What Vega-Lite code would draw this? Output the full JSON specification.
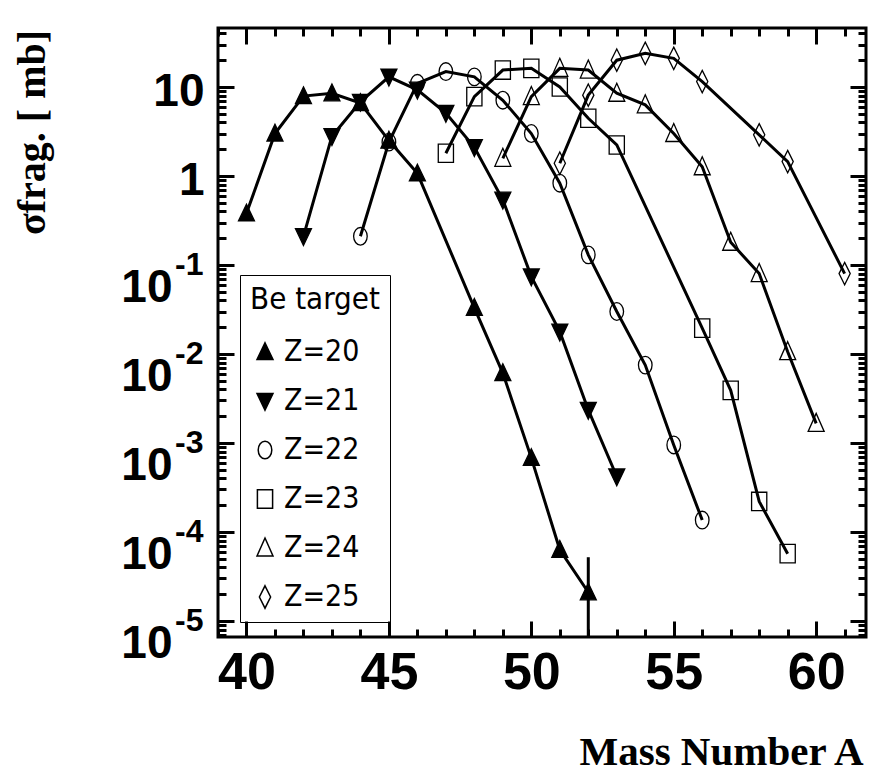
{
  "$schema": "https://vega.github.io/schema/vega-lite/v6.json",
  "autosize": {"type": "none"},
  "padding": {"left": 218, "top": 28, "right": 12, "bottom": 146},
  "width": 648,
  "height": 609,
  "background": "white",
  "config": {
    "view": {"stroke": "black", "strokeWidth": 3},
    "axis": {"domain": false, "grid": false, "labelColor": "black", "titleColor": "black"}
  },
  "datasets": {
    "pts": [
      {"Z": "Z=20", "A": 40, "sigma": 0.38},
      {"Z": "Z=20", "A": 41, "sigma": 3.0},
      {"Z": "Z=20", "A": 42, "sigma": 7.9},
      {"Z": "Z=20", "A": 43, "sigma": 8.5},
      {"Z": "Z=20", "A": 44, "sigma": 6.6},
      {"Z": "Z=20", "A": 45, "sigma": 2.5},
      {"Z": "Z=20", "A": 46, "sigma": 1.07},
      {"Z": "Z=20", "A": 48, "sigma": 0.033},
      {"Z": "Z=20", "A": 49, "sigma": 0.0061},
      {"Z": "Z=20", "A": 50, "sigma": 0.00068},
      {"Z": "Z=20", "A": 51, "sigma": 0.000063},
      {"Z": "Z=20", "A": 52, "sigma": 0.000021},
      {"Z": "Z=21", "A": 42, "sigma": 0.21},
      {"Z": "Z=21", "A": 43, "sigma": 2.8},
      {"Z": "Z=21", "A": 44, "sigma": 6.8},
      {"Z": "Z=21", "A": 45, "sigma": 13},
      {"Z": "Z=21", "A": 46, "sigma": 9.3},
      {"Z": "Z=21", "A": 47, "sigma": 5.1},
      {"Z": "Z=21", "A": 48, "sigma": 2.1},
      {"Z": "Z=21", "A": 49, "sigma": 0.54},
      {"Z": "Z=21", "A": 50, "sigma": 0.074},
      {"Z": "Z=21", "A": 51, "sigma": 0.0178},
      {"Z": "Z=21", "A": 52, "sigma": 0.00235},
      {"Z": "Z=21", "A": 53, "sigma": 0.00042},
      {"Z": "Z=22", "A": 44, "sigma": 0.21},
      {"Z": "Z=22", "A": 45, "sigma": 2.4},
      {"Z": "Z=22", "A": 46, "sigma": 11},
      {"Z": "Z=22", "A": 47, "sigma": 14.9},
      {"Z": "Z=22", "A": 48, "sigma": 13},
      {"Z": "Z=22", "A": 49, "sigma": 7.1},
      {"Z": "Z=22", "A": 50, "sigma": 3.0},
      {"Z": "Z=22", "A": 51, "sigma": 0.83},
      {"Z": "Z=22", "A": 52, "sigma": 0.13},
      {"Z": "Z=22", "A": 53, "sigma": 0.030},
      {"Z": "Z=22", "A": 54, "sigma": 0.0075},
      {"Z": "Z=22", "A": 55, "sigma": 0.00095},
      {"Z": "Z=22", "A": 56, "sigma": 0.000136},
      {"Z": "Z=23", "A": 47, "sigma": 1.8},
      {"Z": "Z=23", "A": 48, "sigma": 7.8},
      {"Z": "Z=23", "A": 49, "sigma": 15.5},
      {"Z": "Z=23", "A": 50, "sigma": 16.2},
      {"Z": "Z=23", "A": 51, "sigma": 10},
      {"Z": "Z=23", "A": 52, "sigma": 4.45},
      {"Z": "Z=23", "A": 53, "sigma": 2.23},
      {"Z": "Z=23", "A": 56, "sigma": 0.0195},
      {"Z": "Z=23", "A": 57, "sigma": 0.0039},
      {"Z": "Z=23", "A": 58, "sigma": 0.00022},
      {"Z": "Z=23", "A": 59, "sigma": 0.000057},
      {"Z": "Z=24", "A": 49, "sigma": 1.58},
      {"Z": "Z=24", "A": 50, "sigma": 7.8},
      {"Z": "Z=24", "A": 51, "sigma": 16.2},
      {"Z": "Z=24", "A": 52, "sigma": 15.5},
      {"Z": "Z=24", "A": 53, "sigma": 8.5},
      {"Z": "Z=24", "A": 54, "sigma": 6.3},
      {"Z": "Z=24", "A": 55, "sigma": 3.0},
      {"Z": "Z=24", "A": 56, "sigma": 1.27},
      {"Z": "Z=24", "A": 57, "sigma": 0.18},
      {"Z": "Z=24", "A": 58, "sigma": 0.08},
      {"Z": "Z=24", "A": 59, "sigma": 0.0106},
      {"Z": "Z=24", "A": 60, "sigma": 0.00166},
      {"Z": "Z=25", "A": 51, "sigma": 1.39},
      {"Z": "Z=25", "A": 52, "sigma": 8.1},
      {"Z": "Z=25", "A": 53, "sigma": 20},
      {"Z": "Z=25", "A": 54, "sigma": 23.9},
      {"Z": "Z=25", "A": 55, "sigma": 21},
      {"Z": "Z=25", "A": 56, "sigma": 11.5},
      {"Z": "Z=25", "A": 58, "sigma": 2.9},
      {"Z": "Z=25", "A": 59, "sigma": 1.45},
      {"Z": "Z=25", "A": 61, "sigma": 0.08}
    ],
    "errs": [
      {"Z": "Z=20", "A": 52, "hi": 0.000052, "lo": 0.000001}
    ]
  },
  "layer": [
    {
      "data": {"name": "pts"},
      "mark": {"type": "line", "stroke": "black", "strokeWidth": 3, "clip": true},
      "encoding": {
        "x": {
          "field": "A", "type": "quantitative",
          "scale": {"domain": [39, 61.75], "nice": false, "zero": false},
          "axis": {
            "orient": "bottom",
            "values": [40, 45, 50, 55, 60],
            "ticks": true,
            "tickSize": 16,
            "tickColor": "black",
            "tickWidth": 3,
            "offset": -16,
            "zindex": 3,
            "labelFont": "Liberation Sans, Arial, sans-serif",
            "labelFontWeight": "bold",
            "labelFontSize": 52,
            "labelPadding": 10,
            "labelFlush": false,
            "labelOverlap": false,
            "title": "Mass Number A",
            "titleFont": "Liberation Serif, DejaVu Serif, serif",
            "titleFontWeight": "bold",
            "titleFontSize": 41,
            "titleAnchor": "end",
            "titleAlign": "right",
            "titleBaseline": "alphabetic",
            "titleX": 645,
            "titleY": 143
          }
        },
        "y": {
          "field": "sigma", "type": "quantitative",
          "scale": {"type": "log", "domain": [0.0000066, 46], "nice": false},
          "axis": {
            "orient": "left",
            "values": [0.00001, 0.0001, 0.001, 0.01, 0.1, 1, 10],
            "ticks": true,
            "tickSize": 16,
            "offset": -16,
            "tickColor": "black",
            "tickWidth": 3,
            "zindex": 3,
            "labelExpr": "datum.value > 0.5 && datum.value < 5 ? '1' : '10'",
            "labelFont": "Liberation Sans, Arial, sans-serif",
            "labelFontWeight": "bold",
            "labelFontSize": 46,
            "labelPadding": {"condition": {"test": "datum.value < 0.5", "value": 46}, "value": 14},
            "labelOffset": {"condition": {"test": "datum.value < 0.5", "value": 23}, "value": 5},
            "labelFlush": false,
            "labelOverlap": false,
            "title": "σfrag. [ mb]",
            "titleFont": "Liberation Serif, DejaVu Serif, serif",
            "titleFontWeight": "bold",
            "titleFontSize": 40,
            "titleAngle": -90,
            "titleAlign": "center",
            "titleBaseline": "middle",
            "titleX": -202,
            "titleY": 104
          }
        },
        "detail": {"field": "Z", "type": "nominal"}
      }
    },
    {
      "data": {"name": "pts"},
      "transform": [{"filter": "datum.Z == 'Z=20' || datum.Z == 'Z=21'"}],
      "mark": {"type": "point", "stroke": "black", "strokeWidth": 1.3, "opacity": 1, "size": 256, "clip": true},
      "encoding": {
        "x": {
          "field": "A", "type": "quantitative",
          "axis": {
            "orient": "bottom",
            "values": [39,41,42,43,44,46,47,48,49,51,52,53,54,56,57,58,59,61],
            "ticks": true,
            "tickSize": 8, "offset": -8, "tickColor": "black", "tickWidth": 3,
            "zindex": 3,
            "labels": false, "title": null
          }
        },
        "y": {
          "field": "sigma", "type": "quantitative",
          "axis": {
            "orient": "left",
            "values": [0.000007,0.000008,0.000009,0.00001,0.00002,0.00003,0.00004,0.00005,0.00006,0.00007,0.00008,0.00009,0.0001,0.0002,0.0003,0.0004,0.0005,0.0006,0.0007,0.0008,0.0009,0.001,0.002,0.003,0.004,0.005,0.006,0.007,0.008,0.009,0.01,0.02,0.03,0.04,0.05,0.06,0.07,0.08,0.09,0.1,0.2,0.3,0.4,0.5,0.6,0.7,0.8,0.9,2,3,4,5,6,7,8,9,20,30,40],
            "ticks": true,
            "tickSize": 8, "offset": -8, "tickColor": "black", "tickWidth": 3,
            "zindex": 3,
            "labelExpr": "(datum.value < 0.5 && abs(log(datum.value)/LN10 - round(log(datum.value)/LN10)) < 0.01) ? '-' + (-round(log(datum.value)/LN10)) : ''",
            "labelFont": "Liberation Sans, Arial, sans-serif",
            "labelFontWeight": "bold",
            "labelFontSize": 32,
            "labelPadding": 15,
            "labelOffset": 0,
            "labelFlush": false,
            "labelOverlap": false,
            "labelBound": false,
            "title": null
          }
        },
        "shape": {
          "field": "Z", "type": "nominal",
          "scale": {
            "domain": ["Z=20","Z=21","Z=22","Z=23","Z=24","Z=25"],
            "range": [
              "M0,-1.15L1,0.95L-1,0.95Z",
              "M0,1.15L1,-0.95L-1,-0.95Z",
              "M-0.85,0A0.85,1.1 0 1,0 0.85,0A0.85,1.1 0 1,0 -0.85,0Z",
              "M-0.95,-1.15H0.95V1.15H-0.95Z",
              "M0,-1.25L1,1L-1,1Z",
              "M0,-1.4L0.7,0L0,1.4L-0.7,0Z"
            ]
          },
          "legend": {
            "orient": "none",
            "legendX": 22,
            "legendY": 247,
            "title": "Be target",
            "titleFont": "DejaVu Sans Condensed, DejaVu Sans, sans-serif",
            "titleFontWeight": "normal",
            "titleFontSize": 31,
            "titleColor": "black",
            "titlePadding": 21,
            "labelFont": "DejaVu Sans Condensed, DejaVu Sans, sans-serif",
            "labelFontSize": 30,
            "labelColor": "black",
            "labelOffset": 4,
            "rowPadding": 19,
            "symbolSize": 256,
            "symbolOffset": 0,
            "padding": 10,
            "strokeColor": "black",
            "fillColor": "white",
            "cornerRadius": 0,
            "encode": {
              "legend": {"update": {"strokeWidth": {"value": 3}}},
              "symbols": {
                "update": {
                  "shape": {"signal": "{'Z=20':'M-1.8,-0.12H1.8V0.12H-1.8Z M0,-1.15L1,0.95L-1,0.95Z','Z=21':'M-1.8,-0.12H1.8V0.12H-1.8Z M0,1.15L1,-0.95L-1,-0.95Z','Z=22':'M-1.8,-0.12H1.8V0.12H-1.8Z M-0.85,0A0.85,1.1 0 1,0 0.85,0A0.85,1.1 0 1,0 -0.85,0Z','Z=23':'M-1.8,-0.12H1.8V0.12H-1.8Z M-0.95,-1.15H0.95V1.15H-0.95Z','Z=24':'M-1.8,-0.12H1.8V0.12H-1.8Z M0,-1.25L1,1L-1,1Z','Z=25':'M-1.8,-0.12H1.8V0.12H-1.8Z M0,-1.4L0.7,0L0,1.4L-0.7,0Z'}[datum.value]"},
                  "stroke": {"value": "black"},
                  "strokeWidth": {"value": 1.3}
                }
              }
            }
          }
        },
        "fill": {
          "field": "Z", "type": "nominal",
          "scale": {
            "domain": ["Z=20","Z=21","Z=22","Z=23","Z=24","Z=25"],
            "range": ["black","black","transparent","transparent","transparent","transparent"]
          },
          "legend": {"orient": "none", "legendX": 22, "legendY": 247, "title": "Be target"}
        }
      }
    },
    {
      "data": {"name": "pts"},
      "transform": [{"filter": "datum.Z != 'Z=20' && datum.Z != 'Z=21'"}],
      "mark": {"type": "point", "stroke": "black", "strokeWidth": 1.3, "opacity": 1, "size": 256, "clip": true},
      "encoding": {
        "x": {
          "field": "A", "type": "quantitative",
          "axis": {
            "orient": "top",
            "values": [40, 45, 50, 55, 60],
            "ticks": true,
            "tickSize": 16, "offset": -16, "tickColor": "black", "tickWidth": 3,
            "zindex": 3,
            "labels": false, "title": null
          }
        },
        "y": {
          "field": "sigma", "type": "quantitative",
          "axis": {
            "orient": "right",
            "values": [0.00001, 0.0001, 0.001, 0.01, 0.1, 1, 10],
            "ticks": true,
            "tickSize": 16, "offset": -16, "tickColor": "black", "tickWidth": 3,
            "zindex": 3,
            "labels": false, "title": null
          }
        },
        "shape": {
          "field": "Z", "type": "nominal",
          "scale": {
            "domain": ["Z=20","Z=21","Z=22","Z=23","Z=24","Z=25"],
            "range": [
              "M0,-1.15L1,0.95L-1,0.95Z",
              "M0,1.15L1,-0.95L-1,-0.95Z",
              "M-0.85,0A0.85,1.1 0 1,0 0.85,0A0.85,1.1 0 1,0 -0.85,0Z",
              "M-0.95,-1.15H0.95V1.15H-0.95Z",
              "M0,-1.25L1,1L-1,1Z",
              "M0,-1.4L0.7,0L0,1.4L-0.7,0Z"
            ]
          },
          "legend": {"orient": "none", "legendX": 22, "legendY": 247, "title": "Be target"}
        },
        "fill": {
          "field": "Z", "type": "nominal",
          "scale": {
            "domain": ["Z=20","Z=21","Z=22","Z=23","Z=24","Z=25"],
            "range": ["black","black","transparent","transparent","transparent","transparent"]
          },
          "legend": {"orient": "none", "legendX": 22, "legendY": 247, "title": "Be target"}
        }
      }
    },
    {
      "data": {"name": "errs"},
      "mark": {"type": "rule", "stroke": "black", "strokeWidth": 3, "clip": true},
      "encoding": {
        "x": {
          "field": "A", "type": "quantitative",
          "axis": {
            "orient": "top",
            "values": [39,41,42,43,44,46,47,48,49,51,52,53,54,56,57,58,59,61],
            "ticks": true,
            "tickSize": 8, "offset": -8, "tickColor": "black", "tickWidth": 3,
            "zindex": 3,
            "labels": false, "title": null
          }
        },
        "y": {
          "field": "hi", "type": "quantitative",
          "axis": {
            "orient": "right",
            "values": [0.000007,0.000008,0.000009,0.00002,0.00003,0.00004,0.00005,0.00006,0.00007,0.00008,0.00009,0.0002,0.0003,0.0004,0.0005,0.0006,0.0007,0.0008,0.0009,0.002,0.003,0.004,0.005,0.006,0.007,0.008,0.009,0.02,0.03,0.04,0.05,0.06,0.07,0.08,0.09,0.2,0.3,0.4,0.5,0.6,0.7,0.8,0.9,2,3,4,5,6,7,8,9,20,30,40],
            "ticks": true,
            "tickSize": 8, "offset": -8, "tickColor": "black", "tickWidth": 3,
            "zindex": 3,
            "labels": false, "title": null
          }
        },
        "y2": {"field": "lo"}
      }
    }
  ],
  "resolve": {"axis": {"x": "independent", "y": "independent"}}
}
